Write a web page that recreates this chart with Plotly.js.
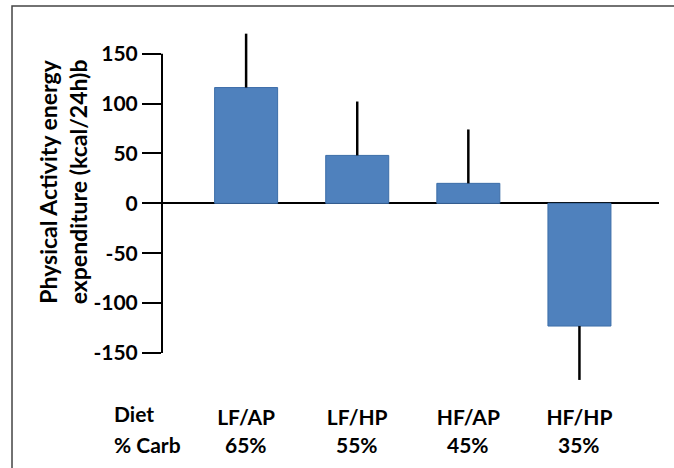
<!DOCTYPE html>
<html>
<head>
<meta charset="utf-8">
<script src="https://cdn.plot.ly/plotly-3.0.1.min.js"></script>
<style>html,body{margin:0;padding:0;background:#fff;}#chart{width:674px;height:468px;}</style>
</head>
<body>
<div id="chart"></div>
<script>
const diets = ["LF/AP", "LF/HP", "HF/AP", "HF/HP"];
const carbs = ["65%", "55%", "45%", "35%"];
const values = [116, 48, 20, -123];
const errors = [54, 54, 54, 54];
const yTickVals = [-150, -100, -50, 0, 50, 100, 150];
const yTickText = ["-150", "-100", "-50", "0", "50", "100", "150"];
const rowHeaders = ["Diet", "% Carb"];
const titleLines = ["Physical Activity energy", "expenditure (kcal/24h)b"];

const FONT = {family: "Lato, 'Open Sans', sans-serif", size: 21, color: "#000", weight: 700};

const trace = {
  type: "bar",
  x: diets,
  y: values,
  width: 0.567,
  marker: {color: "#4F81BD", line: {color: "#3C6DA8", width: 1}},
  error_y: {
    type: "data",
    symmetric: false,
    array: values.map((v, i) => v >= 0 ? errors[i] : 0),
    arrayminus: values.map((v, i) => v < 0 ? errors[i] : 0),
    color: "#000",
    thickness: 2.5,
    width: 0
  },
  cliponaxis: false,
  hoverinfo: "none"
};

const annotations = [
  {xref: "paper", yref: "paper", x: -0.1006, y: -0.058, xanchor: "left", yanchor: "middle",
   text: rowHeaders[0], showarrow: false, font: FONT},
  {xref: "paper", yref: "paper", x: -0.1006, y: -0.140, xanchor: "left", yanchor: "middle",
   text: rowHeaders[1], showarrow: false, font: FONT},
  {xref: "paper", yref: "paper", x: -0.2002, y: 0.565, xanchor: "center", yanchor: "middle",
   textangle: -90, text: titleLines.join("<br>"), showarrow: false,
   font: Object.assign({}, FONT, {size: 23})}
].concat(diets.map((d, i) => ({
  xref: "x", yref: "paper", x: d, y: -0.140, xanchor: "center", yanchor: "middle",
  text: carbs[i], showarrow: false, font: FONT
})));

const layout = {
  width: 674, height: 468,
  margin: {l: 162, r: 15, t: 20, b: 76},
  paper_bgcolor: "#fff", plot_bgcolor: "#fff",
  showlegend: false,
  xaxis: {
    type: "category",
    range: [-0.757, 3.716],
    showgrid: false, zeroline: false, showline: false,
    ticks: "", tickfont: FONT, ticklabelstandoff: 11,
    fixedrange: true
  },
  yaxis: {
    range: [-189.1, 183.7],
    tickmode: "array", tickvals: yTickVals, ticktext: yTickText,
    ticks: "outside", ticklen: 19, tickwidth: 2, tickcolor: "#000",
    tickfont: FONT,
    showgrid: false, showline: false,
    zeroline: true, zerolinecolor: "#000", zerolinewidth: 2,
    fixedrange: true
  },
  shapes: [
    {type: "line", xref: "paper", yref: "y", x0: 0, x1: 0,
     y0: Math.min(...yTickVals), y1: Math.max(...yTickVals),
     line: {color: "#000", width: 2}},
    {type: "rect", xref: "paper", yref: "paper", x0: -0.3018, x1: 1.2, y0: -0.4, y1: 1.0376,
     line: {color: "#444", width: 1.5}, fillcolor: "rgba(0,0,0,0)", layer: "below"}
  ],
  annotations: annotations
};

Plotly.newPlot("chart", [trace], layout, {displayModeBar: false, staticPlot: true});
</script>
</body>
</html>
